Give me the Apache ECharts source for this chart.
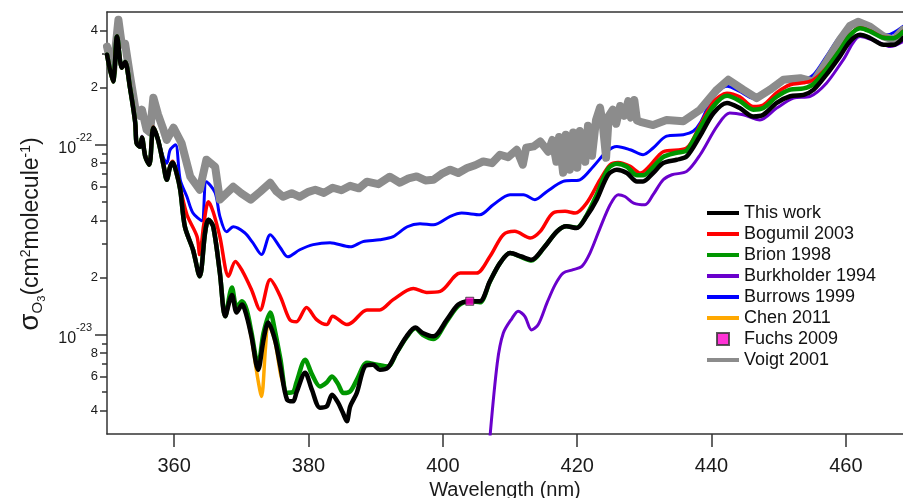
<!DOCTYPE html>
<html><head><meta charset="utf-8">
<script src="https://cdn.jsdelivr.net/npm/echarts@6/dist/echarts.min.js"></script>
<style>html,body{margin:0;padding:0;background:#fff}#c{width:903px;height:498px}</style>
</head><body><div id="c"></div>
<script>
// wavelength (nm), cross section in units of 1e-24 cm^2 molecule^-1
const thisWork = [[350.0,298],[350.9,215],[351.5,372],[352.2,254],[352.7,273],[353.4,202],[354.2,131],[354.4,102],[354.9,97.6],[355.2,109],[355.7,86.5],[356.3,78.5],[356.9,123],[357.6,106],[358.4,78.5],[358.9,65.4],[359.4,76.6],[359.8,80.4],[360.3,72.1],[360.9,58.0],[361.6,37.0],[362.8,28.0],[363.8,20.3],[364.6,34.4],[365.1,40.3],[365.8,37.2],[366.8,21.2],[367.6,12.5],[368.6,16.2],[369.3,13.1],[370.1,14.4],[370.8,12.5],[371.5,9.80],[372.5,6.54],[373.3,9.41],[374.0,11.6],[375.0,9.41],[375.8,6.81],[376.8,4.55],[377.7,4.46],[378.2,4.95],[379.5,6.31],[380.5,5.13],[381.7,4.13],[382.7,4.19],[383.5,4.83],[384.4,4.39],[385.1,3.89],[385.7,3.50],[386.2,4.19],[387.2,4.95],[388.4,6.81],[389.6,6.95],[390.6,6.54],[391.8,6.70],[393.1,8.04],[394.6,9.80],[395.9,10.9],[397.0,10.2],[398.6,9.80],[400.6,12.0],[402.3,14.4],[404.0,15.0],[405.5,15.0],[407.0,19.1],[408.5,23.8],[410.0,26.9],[411.7,25.8],[413.2,24.8],[415.0,28.6],[417.0,35.0],[418.4,37.2],[419.9,36.4],[421.4,42.0],[422.9,51.4],[424.6,69.5],[425.9,73.9],[427.4,71.0],[428.9,64.1],[429.8,64.1],[431.3,71.0],[432.8,80.1],[434.8,83.4],[436.3,86.8],[438.3,111.5],[440.3,147],[442.3,166],[444.2,156],[446.2,141],[447.7,144],[449.7,166],[451.7,180],[453.7,183],[455.2,195],[457.1,234],[459.1,292],[460.6,350],[462.1,379],[463.6,365],[465.6,336],[467.1,336],[468.5,365]];
const bogumil2003 = [[350.0,298],[350.9,215],[351.5,372],[352.2,254],[352.7,273],[353.4,202],[354.2,131],[354.4,104],[354.9,99],[355.2,110],[355.7,88],[356.3,80],[356.9,124],[357.6,107],[358.4,80],[358.9,67],[359.4,78],[359.8,82],[360.3,73],[360.9,59.4],[361.9,42.8],[363.4,32.9],[363.8,26.4],[364.4,37.9],[365.1,50.1],[365.8,44.4],[366.8,32.8],[368.1,20.3],[369.1,24.3],[370.2,21.5],[371.5,17.3],[372.8,13.5],[374.3,19.5],[375.8,15.9],[377.2,12.0],[378.2,11.7],[379.7,13.9],[381.2,12.0],[382.7,11.3],[383.6,12.5],[385.7,11.3],[386.6,11.7],[388.7,13.5],[390.6,13.5],[392.6,15.3],[395.6,17.5],[397.6,16.7],[399.6,16.9],[402.6,21.1],[405.0,21.1],[407.0,25.8],[409.0,33.6],[410.7,35.0],[413.0,32.3],[414.5,35.0],[416.4,43.7],[418.2,44.6],[419.7,43.7],[421.4,49.3],[423.4,65.4],[424.9,78.5],[426.1,80.7],[427.9,76.9],[429.4,71.0],[430.8,77.5],[432.8,91.9],[436.3,96.1],[438.3,127],[440.3,168],[442.3,187],[444.2,179],[446.2,159],[447.7,162],[449.7,188],[451.7,207],[453.7,212],[455.2,220],[457.1,254],[459.1,316],[460.6,379],[462.1,413],[463.6,398],[465.6,368],[467.1,366],[468.5,396]];
const brion1998 = [[350.0,298],[350.9,215],[351.5,372],[352.2,254],[352.7,273],[353.4,202],[354.2,131],[354.4,102],[354.9,97.6],[355.2,109],[355.7,86.5],[356.3,78.5],[356.9,123],[357.6,106],[358.4,78.5],[358.9,65.4],[359.4,76.6],[359.8,80.4],[360.3,72.1],[360.9,58.0],[361.6,37.0],[362.8,28.0],[363.8,20.3],[364.6,34.4],[365.1,40.3],[365.8,37.2],[366.8,21.2],[367.6,12.5],[368.6,17.7],[369.3,14.0],[370.1,15.0],[370.8,13.5],[371.5,10.3],[372.5,6.9],[373.3,10.2],[374.3,13.1],[375.0,10.5],[375.8,7.5],[376.8,4.95],[377.7,5.0],[378.2,5.6],[379.5,7.38],[380.5,6.2],[381.7,5.34],[382.7,5.6],[383.5,6.03],[384.4,5.5],[385.2,4.93],[386.2,5.03],[387.2,5.8],[388.7,7.12],[390.2,6.95],[391.8,6.8],[393.1,8.0],[394.6,9.7],[395.9,10.8],[397.0,10.0],[398.6,9.5],[400.6,11.8],[402.3,14.2],[404.0,15.0],[405.5,14.8],[407.0,19.0],[408.5,23.8],[410.0,26.9],[411.7,25.6],[413.2,24.6],[415.0,28.6],[417.0,35.0],[418.4,37.2],[419.9,36.6],[421.4,42.5],[422.9,54.6],[424.6,74.8],[425.9,79.4],[427.4,76.6],[428.9,69.0],[429.8,69.0],[431.3,76.3],[432.8,86.2],[434.8,90.8],[436.3,93.3],[438.3,123],[440.3,160],[442.3,181],[444.2,170],[446.2,153],[447.7,156],[449.7,179],[451.7,195],[453.7,198],[455.2,209],[457.1,251],[459.1,314],[460.6,376],[462.1,410],[463.6,395],[465.6,366],[467.1,364],[468.5,393]];
const burkholder1994 = [[406.9,2.6],[408.1,7.10],[409.0,10.2],[410.3,12.2],[411.2,13.3],[412.2,12.5],[413.2,10.6],[414.2,11.3],[415.5,14.7],[416.7,18.3],[417.9,21.1],[419.4,22.0],[420.7,22.9],[421.9,26.9],[423.4,36.4],[424.9,48.3],[426.1,54.6],[427.1,53.4],[428.4,49.3],[430.1,48.3],[431.3,54.6],[432.8,65.4],[434.1,69.5],[436.3,72.4],[438.3,88.6],[440.8,125],[442.7,147],[444.7,144],[447.2,135],[449.7,156],[452.2,176],[454.7,180],[457.1,211],[459.6,280],[462.1,372],[464.6,350],[466.6,329],[468.5,350]];
const burrows1999 = [[350.0,298],[350.9,215],[351.5,372],[352.2,254],[352.7,273],[353.4,202],[354.2,131],[354.4,104],[354.9,100],[355.2,111],[355.7,89],[356.3,82],[356.9,125],[357.6,108],[358.4,85.4],[358.9,80],[359.4,94],[360.2,100],[360.9,65.4],[361.9,53.2],[362.8,43.7],[364.1,39.8],[364.8,63.9],[366.1,55.9],[366.8,42.0],[367.8,34.8],[368.8,37.0],[370.5,34.4],[371.7,30.5],[373.0,26.4],[374.3,33.6],[375.8,28.7],[376.9,25.7],[378.7,28.0],[380.7,29.8],[383.2,30.5],[386.2,29.0],[388.1,30.9],[390.6,31.6],[392.6,32.8],[394.7,37.0],[396.6,38.4],[398.6,37.9],[401.1,42.0],[402.8,43.7],[405.5,42.8],[407.5,48.3],[410.0,54.6],[412.0,54.6],[413.7,51.4],[415.5,56.8],[417.9,64.1],[420.4,65.4],[422.4,76.9],[424.4,92.2],[425.9,98.0],[427.9,94.1],[429.8,88.6],[431.3,96.1],[433.3,111],[435.8,113],[437.3,118],[438.3,130],[440.3,180],[442.3,203],[444.2,191],[446.2,176],[448.2,187],[450.7,215],[453.7,220],[455.2,234],[457.1,292],[459.1,372],[461.6,446],[463.6,420],[466.1,379],[468.5,420]];
const chen2011 = [[350.0,298],[350.9,215],[351.5,372],[352.2,254],[352.7,273],[353.4,202],[354.2,131],[354.4,102],[354.9,97.6],[355.2,109],[355.7,86.5],[356.3,78.5],[356.9,123],[357.6,106],[358.4,78.5],[358.9,65.4],[359.4,76.6],[359.8,80.4],[360.3,72.1],[360.9,58.0],[361.6,37.0],[362.8,28.0],[363.8,20.3],[364.6,34.4],[365.1,40.3],[365.8,37.2],[366.8,21.2],[367.6,12.5],[368.6,16.2],[369.3,13.1],[370.1,14.4],[370.8,12.5],[371.5,9.6],[372.4,6.0],[373.0,4.73],[373.6,8.6],[374.0,11.5],[375.0,9.2],[375.8,6.3],[376.3,5.4]];
const fuchs2009 = [[404.0,15.0]];
const voigt2001 = [[350.0,329],[350.9,242],[351.7,455],[352.2,336],[352.7,340],[353.4,234],[354.2,157],[354.9,142],[355.2,153],[355.9,120],[356.4,116],[356.9,177],[357.6,144],[358.4,120],[358.9,106],[359.9,123],[361.1,102],[362.4,67.9],[363.8,58.0],[364.8,83.4],[366.1,76.6],[366.8,51.4],[368.8,60.1],[370.0,55.5],[371.4,51.4],[372.8,56.6],[374.3,63.1],[375.2,57.0],[376.2,53.2],[377.5,55.6],[378.7,53.2],[380.0,56.5],[381.0,58.0],[382.3,55.8],[383.6,59.4],[384.9,57.6],[386.2,60.8],[387.5,59.0],[388.7,63.9],[390.4,62.0],[392.1,67.9],[393.6,63.1],[394.9,66.5],[396.1,68.1],[397.4,64.9],[398.6,65.4],[399.8,70.2],[401.1,73.9],[402.3,71.0],[403.6,75.4],[404.8,78.0],[406.0,81.7],[407.3,80.0],[408.5,88.6],[409.7,86.0],[411.0,94.1],[411.9,78.5],[412.4,96.4],[413.5,98.0],[414.5,104],[415.7,91.9],[416.3,106],[416.9,81.4],[417.3,110],[417.9,71.2],[418.3,113],[418.9,73.9],[419.4,116],[420.0,75.7],[420.4,118],[421.2,81.4],[421.6,126],[422.2,87.5],[422.8,135],[423.4,157],[423.8,129],[424.3,85.4],[424.7,142],[425.3,153],[425.8,129],[426.4,160],[427.0,142],[427.6,170],[428.0,139],[428.5,172],[428.9,134],[429.4,132],[431.3,127],[433.3,135],[435.8,133],[438.3,153],[440.8,195],[442.5,220],[444.7,195],[446.7,176],[448.7,195],[450.7,220],[453.2,224],[455.2,215],[457.1,273],[459.1,357],[460.6,423],[461.8,444],[463.6,418],[465.6,372],[467.1,357],[468.5,403]];

const xTicks = [360, 380, 400, 420, 440, 460];
const yLabelValues = [4, 6, 8, 10, 20, 40, 60, 80, 100, 200, 400];
const yLabelTexts = ['4', '6', '8', '10^-23', '2', '4', '6', '8', '10^-22', '2', '4'];
const yMajorTicks = [10, 100];
const yMidTicks = [4, 6, 8, 20, 40, 60, 80, 200, 400];
const yMinorTicks = [5, 7, 9, 30, 50, 70, 90, 300];
const legendNames = ['This work', 'Bogumil 2003', 'Brion 1998', 'Burkholder 1994', 'Burrows 1999', 'Chen 2011', 'Fuchs 2009', 'Voigt 2001'];

const FONT = '"Liberation Sans", Arial, sans-serif';
const AX = '#333';
const TXT = '#1a1a1a';
const chart = echarts.init(document.getElementById('c'), null, {renderer: 'canvas'});
const gridRect = () => ({left: 107, top: 12, right: 0, bottom: 64, containLabel: false, outerBoundsMode: 'none'});

function yLabelFmt(v) {
  const i = yLabelValues.findIndex(t => Math.abs(Math.log10(t / v)) < 1e-4);
  if (i < 0) return '';
  const s = yLabelTexts[i];
  if (s.indexOf('^') >= 0) {
    const p = s.split('^');
    return '{b|' + p[0] + '}{e|' + p[1] + '}';
  }
  return s;
}

function lineSeries(name, data, color, width, z, smooth) {
  return {
    name, type: 'line', data, xAxisIndex: 0, yAxisIndex: 0,
    symbol: 'none', showSymbol: false, smooth: smooth,
    lineStyle: {color, width, join: 'round', cap: 'round'},
    itemStyle: {color}, z, silent: true, animation: false, clip: true
  };
}

const logY = (gi) => ({gridIndex: gi, type: 'log', logBase: 10, min: 3, max: 500, position: 'left',
  splitLine: {show: false}, minorTick: {show: false}, minorSplitLine: {show: false}});

const option = {
  animation: false,
  backgroundColor: '#fff',
  grid: [gridRect(), gridRect(), gridRect()],
  xAxis: [
    {gridIndex: 0, type: 'value', min: 350, max: 468.5, position: 'bottom',
     axisLine: {show: true, onZero: false, lineStyle: {color: AX, width: 1.5}},
     axisTick: {show: true, customValues: xTicks, length: 13, lineStyle: {color: AX, width: 1.5}},
     axisLabel: {customValues: xTicks, fontSize: 20, margin: 22, color: TXT, fontFamily: FONT},
     splitLine: {show: false},
     name: 'Wavelength (nm)', nameLocation: 'middle', nameGap: 44,
     nameTextStyle: {fontSize: 20, color: TXT, fontFamily: FONT}},
    {gridIndex: 0, type: 'value', min: 350, max: 468.5, position: 'top',
     axisLine: {show: true, onZero: false, lineStyle: {color: AX, width: 1.5}},
     axisTick: {show: false}, axisLabel: {show: false}, splitLine: {show: false}},
    {gridIndex: 1, type: 'value', min: 350, max: 468.5, show: false},
    {gridIndex: 2, type: 'value', min: 350, max: 468.5, show: false}
  ],
  yAxis: [
    Object.assign(logY(0), {
      axisLine: {show: true, onZero: false, lineStyle: {color: AX, width: 1.5}},
      axisTick: {show: true, customValues: yMidTicks, length: 7, lineStyle: {color: AX, width: 1.5}},
      axisLabel: {customValues: yLabelValues, formatter: yLabelFmt, fontSize: 13, margin: 9,
        color: TXT, fontFamily: FONT,
        rich: {
          b: {fontSize: 16, lineHeight: 24, verticalAlign: 'bottom', fontFamily: FONT, color: TXT},
          e: {fontSize: 11, lineHeight: 12, verticalAlign: 'top', padding: [0, 6, 0, 0], fontFamily: FONT, color: TXT}
        }},
      name: '{s|σ}{o|O}{th|3}{t|(cm}{sup|2}{t|molecule}{sup|-1}{t|)}',
      nameLocation: 'middle', nameRotate: 90, nameGap: 56,
      nameTextStyle: {
        fontFamily: FONT, color: TXT, padding: [0, 22, 0, 0],
        rich: {
          s: {fontSize: 28, lineHeight: 28, verticalAlign: 'bottom', padding: [0, 0, 3, 0], fontFamily: FONT, color: TXT},
          o: {fontSize: 15, lineHeight: 15, verticalAlign: 'bottom', padding: [0, 0, 2, 0], fontFamily: FONT, color: TXT},
          th: {fontSize: 11, lineHeight: 11, verticalAlign: 'bottom', fontFamily: FONT, color: TXT},
          t: {fontSize: 23, lineHeight: 26, verticalAlign: 'bottom', padding: [0, 0, 4, 0], fontFamily: FONT, color: TXT},
          sup: {fontSize: 14, lineHeight: 14, verticalAlign: 'top', fontFamily: FONT, color: TXT}
        }
      }
    }),
    Object.assign(logY(1), {
      axisLine: {show: false},
      axisTick: {show: true, customValues: yMajorTicks, length: 12, lineStyle: {color: AX, width: 1.5}},
      axisLabel: {show: false}
    }),
    Object.assign(logY(2), {
      axisLine: {show: false},
      axisTick: {show: true, customValues: yMinorTicks, length: 5, lineStyle: {color: AX, width: 1.5}},
      axisLabel: {show: false}
    })
  ],
  legend: {
    orient: 'vertical', left: 707, top: 204, itemWidth: 32, itemHeight: 12, itemGap: 3, padding: 0,
    textStyle: {fontSize: 18, lineHeight: 18, color: '#111', fontFamily: FONT},
    data: legendNames.map(n => n === 'Fuchs 2009'
      ? {name: n, icon: 'path://M0,0L10,0L10,10L0,10Z'}
      : {name: n, icon: 'path://M0,0L32,0L32,4L0,4Z'})
  },
  series: [
    lineSeries('Burrows 1999', burrows1999, '#0000ff', 3, 2, 0.3),
    lineSeries('Voigt 2001', voigt2001, '#8c8c8c', 8, 3, false),
    lineSeries('Bogumil 2003', bogumil2003, '#ff0000', 3.5, 4, 0.3),
    lineSeries('Brion 1998', brion1998, '#009600', 4.5, 5, 0.3),
    lineSeries('Burkholder 1994', burkholder1994, '#6a00cc', 3, 6, 0.3),
    lineSeries('Chen 2011', chen2011, '#ffa800', 3.5, 7, 0.3),
    lineSeries('This work', thisWork, '#000000', 4.5, 8, 0.3),
    {name: 'Fuchs 2009', type: 'scatter', data: fuchs2009, xAxisIndex: 0, yAxisIndex: 0,
     symbol: 'rect', symbolSize: 8, z: 10, silent: true,
     itemStyle: {color: '#ff00cc', borderColor: '#333', borderWidth: 1}}
  ]
};
chart.setOption(option);
</script>
</body></html>
